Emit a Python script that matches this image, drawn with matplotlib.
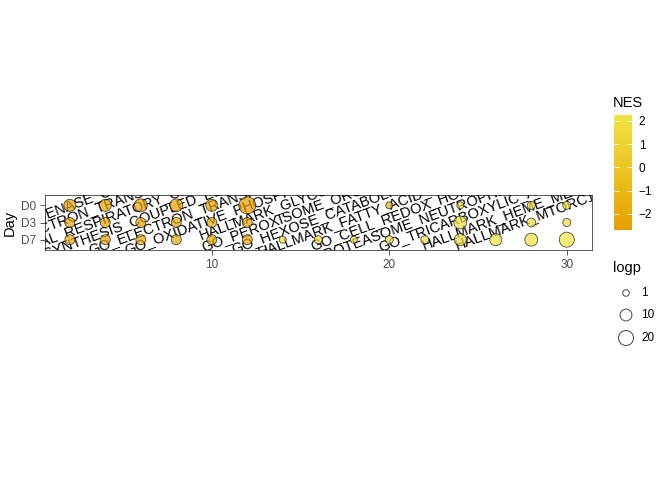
import numpy as np
import matplotlib.pyplot as plt
from matplotlib.colors import LinearSegmentedColormap, Normalize
from matplotlib.cm import ScalarMappable

plt.rcParams['font.family'] = ['Liberation Sans', 'DejaVu Sans']

# Datos
vias = ['GO_NADH_DEHYDROGENASE_COMPLEX_ASSEMBLY',
        'GO_MITOCHONDRIAL_ELECTRON_TRANSPORT_NADH_TO_UBIQUINONE',
        'GO_MITOCHONDRIAL_RESPIRATORY_CHAIN_COMPLEX_ASSEMBLY',
        'GO_ATP_SYNTHESIS_COUPLED_ELECTRON_TRANSPORT',
        'GO_ELECTRON_TRANSPORT_CHAIN',
        'GO_OXIDATIVE_PHOSPHORYLATION',
        'HALLMARK_GLYCOLYSIS',
        'GO_PEROXISOME_ORGANIZATION',
        'GO_HEXOSE_CATABOLIC_PROCESS',
        'HALLMARK_FATTY_ACID_METABOLISM',
        'GO_CELL_REDOX_HOMEOSTASIS',
        'GO_PROTEASOME_NEUTROPHIL_DEGRANULATION',
        'GO_TRICARBOXYLIC_ACID_CYCLE',
        'HALLMARK_HEME_METABOLISM',
        'HALLMARK_MTORC1_SIGNALING']
x_vias = [2, 4, 6, 8, 10, 12, 14, 16, 18, 20, 22, 24, 26, 28, 30]
dias = ['D0', 'D3', 'D7']

# NES por via (D0, D3, D7); None = sin punto
nes = [[-2.3, -2.2, -2.1],
       [-2.3, -2.2, -2.1],
       [-2.4, -2.2, -2.1],
       [-2.4, -2.2, -2.1],
       [-2.3, -2.2, -2.1],
       [-2.7, -2.3, -2.2],
       [None, None, 1.8],
       [None, None, 1.7],
       [None, None, 1.9],
       [-1.6, None, 1.9],
       [None, None, 2.0],
       [2.0, 2.0, 2.0],
       [None, None, 2.1],
       [2.0, 2.0, 2.1],
       [2.0, 2.0, 2.2]]

logp = [[10.5, 5.8, 5.8],
        [10.5, 5.8, 5.8],
        [13, 5.8, 5.8],
        [13, 5.8, 5.8],
        [10.5, 5.8, 5.8],
        [28, 5.8, 5.8],
        [None, None, 1.4],
        [None, None, 2.6],
        [None, None, 1.4],
        [1.4, None, 2.6],
        [None, None, 2.6],
        [1.4, 13, 10.5],
        [None, None, 10.5],
        [2.6, 4, 13],
        [2.6, 2.6, 20]]

logp_leyenda = [1, 10, 20]

cmap = LinearSegmentedColormap.from_list('nes', ['#E69F00', '#F0E442'])
norm = Normalize(vmin=-2.7, vmax=2.25)

def tam(v):
    r = 2.05 + 1.22 * np.sqrt(np.asarray(v, dtype=float))
    return (2 * r * 72 / 96) ** 2

fig = plt.figure(figsize=(7, 5), dpi=96)
W, H = 672, 480
ax = fig.add_axes([45 / W, 1 - 250 / H, (591.6 - 45) / W, 55 / H])

y_dia = {'D0': 3, 'D3': 2, 'D7': 1}

# textos (uno por via, en la fila D0)
for i, via in enumerate(vias):
    ax.text(x_vias[i], y_dia['D0'], via, rotation=20, rotation_mode='anchor',
            ha='center', va='center', fontsize=11, color='black', clip_on=True)

xs, ys, cs, ss = [], [], [], []
for i in range(len(vias)):
    for j, d in enumerate(dias):
        if nes[i][j] is None:
            continue
        xs.append(x_vias[i])
        ys.append(y_dia[d])
        cs.append(nes[i][j])
        ss.append(logp[i][j])

ax.scatter(xs, ys, s=tam(ss), c=cs, cmap=cmap, norm=norm, alpha=0.7,
           edgecolors='black', linewidths=0.6, zorder=3)

ax.set_xlim(0.6, 31.4)
ax.set_ylim(0.4, 3.6)
ax.set_xticks([10, 20, 30])
ax.set_yticks([3, 2, 1])
ax.set_yticklabels(['D0', 'D3', 'D7'])
ax.tick_params(colors='#333333', labelcolor='#4D4D4D', labelsize=8.8, length=3.5, width=0.6)
for s in ax.spines.values():
    s.set_color('#333333')
    s.set_linewidth(0.6)
ax.set_ylabel('Day', fontsize=11, labelpad=3)

# barra de color
cax = fig.add_axes([614 / W, 1 - 230 / H, 18 / W, 115 / H])
cb = fig.colorbar(ScalarMappable(norm=norm, cmap=cmap), cax=cax)
cb.outline.set_visible(False)
cb.set_ticks([-2, -1, 0, 1, 2])
cax.tick_params(direction='in', color='white', length=3.5, width=0.6,
                left=True, right=True, labelsize=8.8, pad=5)
fig.text(613 / W, 1 - 103 / H, 'NES', fontsize=11, va='center')

# leyenda de tamanos
fig.text(613 / W, 1 - 268 / H, 'logp', fontsize=11, va='center')
lax = fig.add_axes([614 / W, 1 - 350 / H, 24 / W, 70 / H])
lax.set_xlim(0, 1)
lax.set_ylim(350, 280)
lax.axis('off')
y_ley = [293, 315, 338]
lax.scatter([0.5] * 3, y_ley, s=tam(logp_leyenda), facecolors='none',
            edgecolors='#555555', linewidths=0.8)
for yv, lab in zip(y_ley, logp_leyenda):
    fig.text(641 / W, 1 - yv / H, str(lab), fontsize=8.8, va='center')

fig.savefig('out.png', dpi=96)
